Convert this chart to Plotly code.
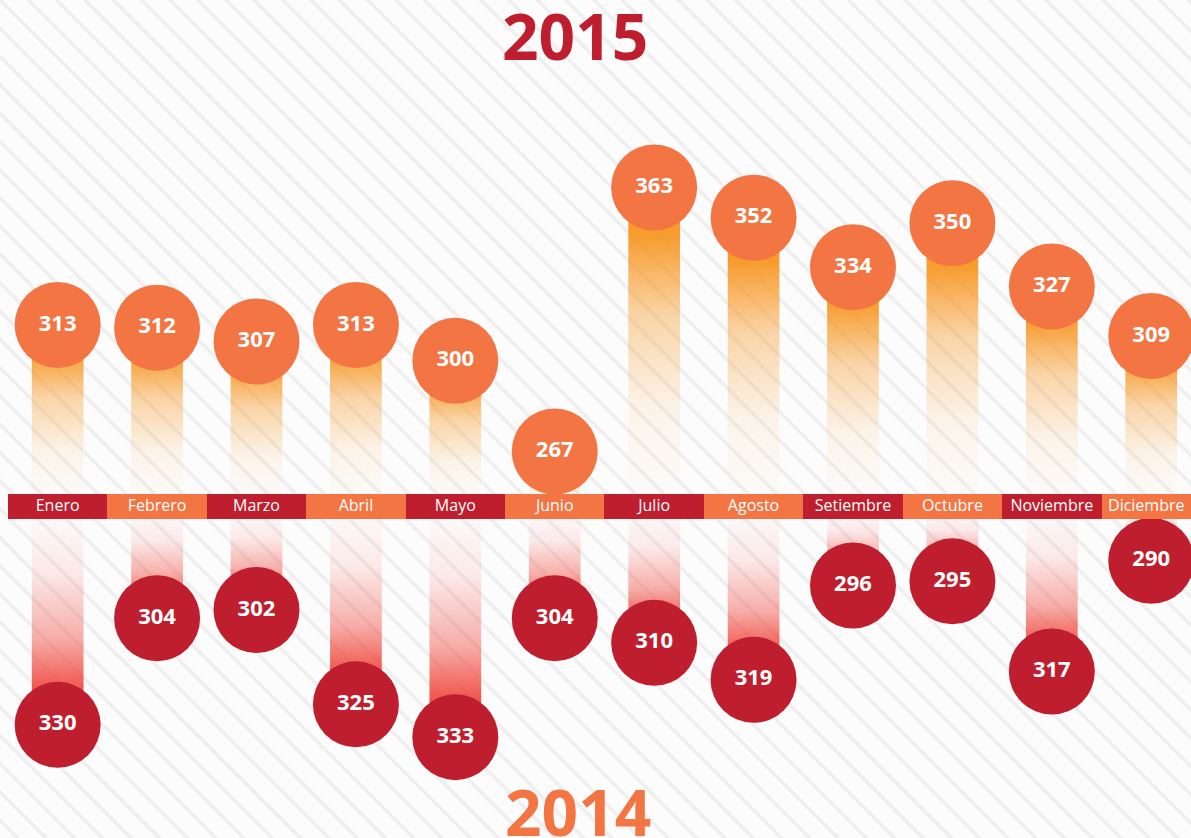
import plotly.graph_objects as go

# ---------------- data ----------------
months = ["Enero", "Febrero", "Marzo", "Abril", "Mayo", "Junio", "Julio",
          "Agosto", "Setiembre", "Octubre", "Noviembre", "Diciembre"]
values_2015 = [313, 312, 307, 313, 300, 267, 363, 352, 334, 350, 327, 309]
values_2014 = [330, 304, 302, 325, 333, 304, 310, 319, 296, 295, 317, 290]
title_top = "2015"
title_bottom = "2014"

# ---------------- styles ----------------
RED = "#be1e2d"
ORANGE = "#f27543"
FONT = "Open Sans"
W, H = 1191, 838
BAND_MID = 0.3943          # paper y of band centre
BAND_LO, BAND_HI = 0.3807, 0.4105
TOP_BASE, TOP_MAX = 246.6, 431.2      # value axis for 2015 (upwards)
BOT_BASE, BOT_MAX = 277.0, 357.6      # value axis for 2014 (downwards)
X_RANGE = [-0.58, 11.40]
HALF = 0.26

idx = list(range(len(months)))
fig = go.Figure()

# background stripes (decorative)
fig.add_trace(go.Scatter(
    x=[X_RANGE[0], X_RANGE[1], X_RANGE[1], X_RANGE[0], X_RANGE[0]],
    y=[0, 0, 1, 1, 0], mode="lines", fill="toself",
    line=dict(width=0), fillcolor="#fcfcfc",
    fillpattern=dict(shape="\\", size=20, solidity=0.17,
                     fgcolor="#efefef", bgcolor="#fcfcfc", fillmode="replace"),
    hoverinfo="skip", showlegend=False, xaxis="x", yaxis="y"))

# stalks 2015 (orange gradient)
for i, v in zip(idx, values_2015):
    fig.add_trace(go.Scatter(
        x=[i - HALF, i + HALF, i + HALF, i - HALF, i - HALF],
        y=[TOP_BASE, TOP_BASE, v, v, TOP_BASE],
        mode="lines", fill="toself", line=dict(width=0),
        fillgradient=dict(type="vertical", start=TOP_BASE, stop=v,
                          colorscale=[[0, "rgba(247,148,29,0.0)"],
                                      [0.3, "rgba(247,148,29,0.08)"],
                                      [0.6, "rgba(247,148,29,0.38)"],
                                      [0.85, "rgba(247,148,29,0.92)"],
                                      [1, "rgba(247,148,29,1)"]]),
        hoverinfo="skip", showlegend=False, xaxis="x", yaxis="y2"))

# stalks 2014 (red gradient)
for i, v in zip(idx, values_2014):
    fig.add_trace(go.Scatter(
        x=[i - HALF, i + HALF, i + HALF, i - HALF, i - HALF],
        y=[BOT_BASE, BOT_BASE, v, v, BOT_BASE],
        mode="lines", fill="toself", line=dict(width=0),
        fillgradient=dict(type="vertical", start=BOT_BASE, stop=v,
                          colorscale=[[0, "rgba(239,65,54,0.0)"],
                                      [0.3, "rgba(239,65,54,0.1)"],
                                      [0.6, "rgba(239,65,54,0.42)"],
                                      [0.85, "rgba(239,65,54,0.92)"],
                                      [1, "rgba(239,65,54,1)"]]),
        hoverinfo="skip", showlegend=False, xaxis="x", yaxis="y3"))

# circles 2015
fig.add_trace(go.Scatter(
    x=idx, y=values_2015, mode="markers+text",
    marker=dict(size=86, color=ORANGE, line=dict(width=0)),
    text=[str(v) for v in values_2015], textposition="middle center",
    textfont=dict(family=FONT, size=22, color="white", weight="bold"),
    cliponaxis=False, hoverinfo="skip", showlegend=False, xaxis="x", yaxis="y2"))

# circles 2014
fig.add_trace(go.Scatter(
    x=idx, y=values_2014, mode="markers+text",
    marker=dict(size=86, color=RED, line=dict(width=0)),
    text=[str(v) for v in values_2014], textposition="middle center",
    textfont=dict(family=FONT, size=22, color="white", weight="bold"),
    cliponaxis=False, hoverinfo="skip", showlegend=False, xaxis="x", yaxis="y3"))

# month band
fig.add_trace(go.Bar(
    x=idx, y=[1] * len(months), base=0, width=1,
    marker=dict(color=[RED if i % 2 == 0 else ORANGE for i in idx], line=dict(width=0)),
    hoverinfo="skip", showlegend=False, xaxis="x", yaxis="y4"))
# label at the centre of the visible part of each band segment
label_x = [(max(i - 0.5, X_RANGE[0]) + min(i + 0.5, X_RANGE[1])) / 2 for i in idx]
fig.add_trace(go.Scatter(
    x=label_x, y=[0.5] * len(months), mode="text", text=months,
    textposition="middle center",
    textfont=dict(family=FONT, size=16, color="white"),
    cliponaxis=False, hoverinfo="skip", showlegend=False, xaxis="x", yaxis="y4"))

hidden = dict(visible=False, showgrid=False, zeroline=False, fixedrange=True)
fig.update_layout(
    width=W, height=H, margin=dict(l=0, r=0, t=0, b=0),
    paper_bgcolor="#fcfcfc", plot_bgcolor="rgba(0,0,0,0)",
    xaxis=dict(range=X_RANGE, domain=[0, 1], **hidden),
    yaxis=dict(range=[0, 1], domain=[0, 1], anchor="x", **hidden),
    yaxis2=dict(range=[TOP_BASE, TOP_MAX], domain=[BAND_MID, 1], anchor="x", **hidden),
    yaxis3=dict(range=[BOT_MAX, BOT_BASE], domain=[0, BAND_MID], anchor="x", **hidden),
    yaxis4=dict(range=[0, 1], domain=[BAND_LO, BAND_HI], anchor="x", **hidden),
    bargap=0,
    hovermode=False,
    annotations=[
        dict(text=f"<b>{title_top}</b>", x=0.4828, y=0.958, xref="paper", yref="paper",
             xanchor="center", yanchor="middle", showarrow=False,
             font=dict(family=FONT, size=64, color=RED)),
        dict(text=f"<b>{title_bottom}</b>", x=0.4853, y=0.032, xref="paper", yref="paper",
             xanchor="center", yanchor="middle", showarrow=False,
             font=dict(family=FONT, size=64, color=ORANGE)),
    ],
)

fig.write_html("out.html", config={"displayModeBar": False},
               post_script="document.body.style.margin='0';")
